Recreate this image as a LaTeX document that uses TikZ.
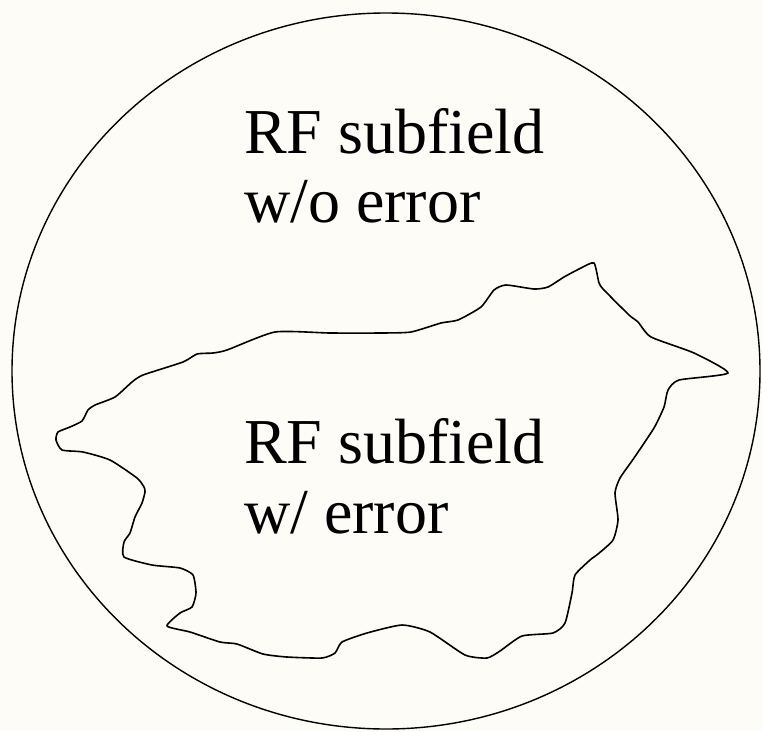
\documentclass[tikz,border=0pt]{standalone}
\usepackage{fontspec}
\setmainfont{Liberation Serif}
\definecolor{paper}{HTML}{FEFCF7}
\begin{document}
\begin{tikzpicture}[x=1pt,y=-1pt,
  label text/.style={anchor=base west, inner sep=0pt,
    font=\fontsize{64}{70}\selectfont},
  outline/.style={draw=black, line width=1.4pt},
  region/.style={draw=black, line width=1.6pt, line join=round}]
  % page background and extent
  \fill[paper] (0,0) rectangle (762,731);
  \useasboundingbox (0,0) rectangle (762,731);
  % whole receptive field
  \draw[outline] (386,371) ellipse [x radius=374pt, y radius=358pt];
  % irregular subfield containing errors
  \draw[region] plot[smooth cycle, tension=0.35] coordinates {
    (275,332) (330,333) (381,333) (411,332) (441,323) (458,320)
    (481,307) (494,290) (506,285) (534,289) (548,287) (564,277)
    (581,268) (594,263) (599,283) (604,290) (629,315) (638,322)
    (651,337) (694,353) (728,373) (679,380) (668,390) (664,407)
    (654,428) (634,458) (620,478) (615,493) (618,520) (613,540)
    (598,554) (590,560) (575,575) (572,593) (565,623) (553,633)
    (522,636) (500,651) (487,658) (465,655) (430,632) (402,625)
    (367,633) (342,642) (335,653) (322,658) (287,657) (263,654)
    (237,644) (220,642) (190,632) (167,626) (180,613) (192,607)
    (196,593) (193,575) (180,568) (152,565) (124,557) (124,542)
    (130,533) (135,517) (142,503) (145,492) (144,487) (137,478)
    (110,460) (83,452) (62,450) (56,440) (58,432) (70,427)
    (82,421) (88,410) (95,405) (115,397) (132,382) (143,375)
    (183,362) (197,354) (213,353) (227,350)
  };
  % labels
  \node[label text] (outer1) at (244,153) {RF subfield};
  \node[label text] (outer2) at (244,222) {w/o error};
  \node[label text] (inner1) at (244,463) {RF subfield};
  \node[label text] (inner2) at (244,533) {w/ error};
\end{tikzpicture}
\end{document}
